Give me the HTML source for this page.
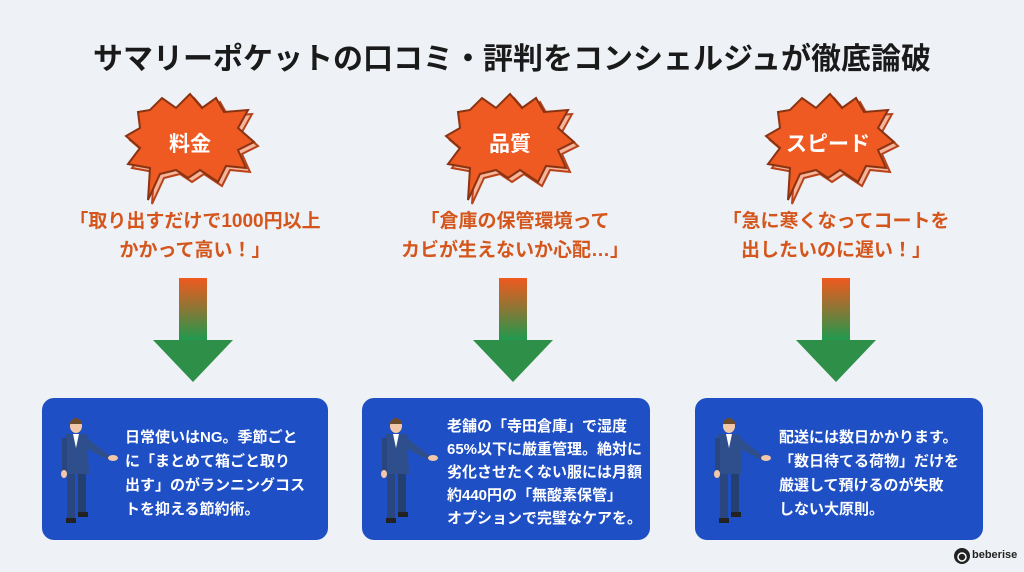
<!DOCTYPE html>
<html><head><meta charset="utf-8"><style>
body{margin:0;width:1024px;height:572px;background:#eef1f5;overflow:hidden;font-family:"Liberation Sans","Noto Sans CJK JP",sans-serif;}
.t{position:absolute;white-space:nowrap;font-weight:bold;}
</style></head><body>
<svg width="1024" height="572" style="position:absolute;left:0;top:0">
<defs>
<linearGradient id="g" x1="0" y1="0" x2="0" y2="1"><stop offset="0" stop-color="#f0581e"/><stop offset="0.55" stop-color="#7f7a38"/><stop offset="1" stop-color="#1f9a4e"/></linearGradient>
<g id="b">
<polygon transform="translate(4,4)" fill="#f6b49a" stroke="#b8431a" stroke-width="2" points="-52,-30 -40,-32 -28,-44 -14,-34 0,-48 12,-34 26,-44 34,-30 58,-32 48,-14 64,0 48,8 56,26 36,24 28,40 10,28 -2,36 -14,28 -30,32 -42,58 -40,26 -62,22 -50,6 -64,-6 -50,-14"/>
<polygon fill="#ee5a22" stroke="#8a3312" stroke-width="2" points="-52,-30 -40,-32 -28,-44 -14,-34 0,-48 12,-34 26,-44 34,-30 58,-32 48,-14 64,0 48,8 56,26 36,24 28,40 10,28 -2,36 -14,28 -30,32 -42,58 -40,26 -62,22 -50,6 -64,-6 -50,-14"/>
</g>
<g id="a"><rect x="-14" y="0" width="28" height="62" fill="url(#g)"/><polygon points="-40,62 40,62 0,104" fill="#2e8f48"/></g>
<g id="m">
<ellipse cx="0" cy="-4" rx="6" ry="7" fill="#f2c8a8"/><path d="M-6,-8 Q0,-16 6,-8 L6,-6 L-6,-6Z" fill="#6b4a2e"/>
<path d="M-11,4 L11,4 L13,44 L-11,44Z" fill="#2f4f8c"/><path d="M-3,4 L3,4 L0,18Z" fill="#fff"/>
<path d="M11,8 L34,26 L32,30 L10,18Z" fill="#2f4f8c"/><ellipse cx="37" cy="28" rx="5" ry="3" fill="#f2c8a8"/>
<rect x="-14" y="8" width="5" height="34" fill="#2a4680"/><ellipse cx="-12" cy="44" rx="3" ry="4" fill="#f2c8a8"/>
<rect x="-9" y="44" width="8" height="46" fill="#2a4680"/><rect x="2" y="44" width="8" height="40" fill="#244070"/>
<rect x="-10" y="88" width="10" height="5" fill="#222"/><rect x="2" y="82" width="10" height="5" fill="#222"/>
</g>
</defs>
<use href="#b" x="190" y="142"/><use href="#b" x="510" y="142"/><use href="#b" x="830" y="142"/>
<use href="#a" x="193" y="278"/><use href="#a" x="513" y="278"/><use href="#a" x="836" y="278"/>
<rect x="42" y="398" width="286" height="142" rx="12" fill="#1f4fc4"/>
<rect x="362" y="398" width="288" height="142" rx="12" fill="#1f4fc4"/>
<rect x="695" y="398" width="288" height="142" rx="12" fill="#1f4fc4"/>
<use href="#m" x="76" y="430"/><use href="#m" x="396" y="430"/><use href="#m" x="729" y="430"/>
<circle cx="962" cy="556" r="8" fill="#222"/><circle cx="962" cy="557" r="4" fill="none" stroke="#fff" stroke-width="1.5"/>
</svg>
<div class="t" style="left:0;width:1024px;text-align:center;top:34px;font-size:30px;color:#1a1a1a">サマリーポケットの口コミ・評判をコンシェルジュが徹底論破</div>
<div class="t" style="left:140px;width:100px;text-align:center;top:128px;font-size:21px;color:#fff">料金</div>
<div class="t" style="left:460px;width:100px;text-align:center;top:128px;font-size:21px;color:#fff">品質</div>
<div class="t" style="left:778px;width:100px;text-align:center;top:128px;font-size:21px;color:#fff">スピード</div>
<div class="t" style="left:35px;width:320px;text-align:center;top:207px;font-size:19px;line-height:29px;color:#d5561c">「取り出すだけで1000円以上<br>かかって高い！」</div>
<div class="t" style="left:355px;width:320px;text-align:center;top:207px;font-size:19px;line-height:29px;color:#d5561c">「倉庫の保管環境って<br>カビが生えないか心配…」</div>
<div class="t" style="left:676px;width:320px;text-align:center;top:207px;font-size:19px;line-height:29px;color:#d5561c">「急に寒くなってコートを<br>出したいのに遅い！」</div>
<div class="t" style="left:125px;top:426px;font-size:15px;line-height:24px;color:#fff">日常使いはNG。季節ごと<br>に「まとめて箱ごと取り<br>出す」のがランニングコス<br>トを抑える節約術。</div>
<div class="t" style="left:447px;top:415px;font-size:15px;line-height:23px;color:#fff">老舗の「寺田倉庫」で湿度<br>65%以下に厳重管理。絶対に<br>劣化させたくない服には月額<br>約440円の「無酸素保管」<br>オプションで完璧なケアを。</div>
<div class="t" style="left:779px;top:426px;font-size:15px;line-height:24px;color:#fff">配送には数日かかります。<br>「数日待てる荷物」だけを<br>厳選して預けるのが失敗<br>しない大原則。</div>
<div class="t" style="left:972px;top:549px;font-size:11px;color:#222">beberise</div>
</body></html>
